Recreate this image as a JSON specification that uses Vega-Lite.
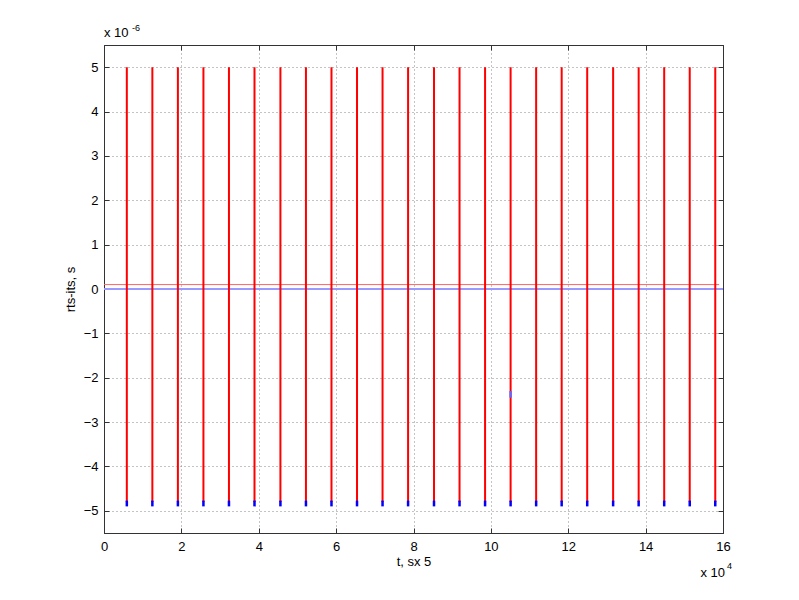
{
  "$schema": "https://vega.github.io/schema/vega-lite/v6.json",
  "width": 619,
  "height": 488,
  "autosize": {"type": "none"},
  "padding": {"left": 104, "top": 45, "right": 76, "bottom": 67},
  "background": "white",
  "config": {
    "font": "Liberation Sans",
    "view": {"stroke": "#333333", "strokeWidth": 1},
    "axis": {
      "labelFont": "Liberation Sans",
      "titleFont": "Liberation Sans",
      "labelFontSize": 13,
      "titleFontSize": 13,
      "titleFontWeight": "normal",
      "labelColor": "#000000",
      "titleColor": "#000000",
      "domainColor": "#333333",
      "tickColor": "#333333",
      "gridColor": "#888888",
      "gridDash": [1, 3],
      "gridOpacity": 1,
      "labelFlush": false,
      "labelOverlap": false
    }
  },
  "datasets": {
    "segments": [
      {"x": 0.59, "y": -4.8, "y2": 5, "part": "red"}, {"x": 0.59, "y": -4.9, "y2": -4.77, "part": "blue"},
      {"x": 1.25, "y": -4.8, "y2": 5, "part": "red"}, {"x": 1.25, "y": -4.9, "y2": -4.77, "part": "blue"},
      {"x": 1.91, "y": -4.8, "y2": 5, "part": "red"}, {"x": 1.91, "y": -4.9, "y2": -4.77, "part": "blue"},
      {"x": 2.57, "y": -4.8, "y2": 5, "part": "red"}, {"x": 2.57, "y": -4.9, "y2": -4.77, "part": "blue"},
      {"x": 3.23, "y": -4.8, "y2": 5, "part": "red"}, {"x": 3.23, "y": -4.9, "y2": -4.77, "part": "blue"},
      {"x": 3.89, "y": -4.8, "y2": 5, "part": "red"}, {"x": 3.89, "y": -4.9, "y2": -4.77, "part": "blue"},
      {"x": 4.56, "y": -4.8, "y2": 5, "part": "red"}, {"x": 4.56, "y": -4.9, "y2": -4.77, "part": "blue"},
      {"x": 5.22, "y": -4.8, "y2": 5, "part": "red"}, {"x": 5.22, "y": -4.9, "y2": -4.77, "part": "blue"},
      {"x": 5.88, "y": -4.8, "y2": 5, "part": "red"}, {"x": 5.88, "y": -4.9, "y2": -4.77, "part": "blue"},
      {"x": 6.54, "y": -4.8, "y2": 5, "part": "red"}, {"x": 6.54, "y": -4.9, "y2": -4.77, "part": "blue"},
      {"x": 7.20, "y": -4.8, "y2": 5, "part": "red"}, {"x": 7.20, "y": -4.9, "y2": -4.77, "part": "blue"},
      {"x": 7.86, "y": -4.8, "y2": 5, "part": "red"}, {"x": 7.86, "y": -4.9, "y2": -4.77, "part": "blue"},
      {"x": 8.53, "y": -4.8, "y2": 5, "part": "red"}, {"x": 8.53, "y": -4.9, "y2": -4.77, "part": "blue"},
      {"x": 9.19, "y": -4.8, "y2": 5, "part": "red"}, {"x": 9.19, "y": -4.9, "y2": -4.77, "part": "blue"},
      {"x": 9.85, "y": -4.8, "y2": 5, "part": "red"}, {"x": 9.85, "y": -4.9, "y2": -4.77, "part": "blue"},
      {"x": 10.51, "y": -4.8, "y2": 5, "part": "red"}, {"x": 10.51, "y": -4.9, "y2": -4.77, "part": "blue"},
      {"x": 10.51, "y": -2.45, "y2": -2.3, "part": "lightblue"},
      {"x": 11.17, "y": -4.8, "y2": 5, "part": "red"}, {"x": 11.17, "y": -4.9, "y2": -4.77, "part": "blue"},
      {"x": 11.83, "y": -4.8, "y2": 5, "part": "red"}, {"x": 11.83, "y": -4.9, "y2": -4.77, "part": "blue"},
      {"x": 12.49, "y": -4.8, "y2": 5, "part": "red"}, {"x": 12.49, "y": -4.9, "y2": -4.77, "part": "blue"},
      {"x": 13.16, "y": -4.8, "y2": 5, "part": "red"}, {"x": 13.16, "y": -4.9, "y2": -4.77, "part": "blue"},
      {"x": 13.82, "y": -4.8, "y2": 5, "part": "red"}, {"x": 13.82, "y": -4.9, "y2": -4.77, "part": "blue"},
      {"x": 14.48, "y": -4.8, "y2": 5, "part": "red"}, {"x": 14.48, "y": -4.9, "y2": -4.77, "part": "blue"},
      {"x": 15.14, "y": -4.8, "y2": 5, "part": "red"}, {"x": 15.14, "y": -4.9, "y2": -4.77, "part": "blue"},
      {"x": 15.80, "y": -4.8, "y2": 5, "part": "red"}, {"x": 15.80, "y": -4.9, "y2": -4.77, "part": "blue"}
    ],
    "hlines": [
      {"y": 0, "x": 0, "x2": 16, "series": "blue"},
      {"y": 0.1, "x": 0, "x2": 15.9, "series": "red"}
    ],
    "notes": [
      {"x": 0, "y": 5.5, "label": "x 10", "kind": "topbase"},
      {"x": 0, "y": 5.5, "label": "-6", "kind": "topexp"},
      {"x": 16, "y": -5.5, "label": "x 10", "kind": "botbase"},
      {"x": 16, "y": -5.5, "label": "4", "kind": "botexp"}
    ]
  },
  "resolve": {"axis": {"x": "independent", "y": "independent"}},
  "layer": [
    {
      "encoding": {
        "x": {"field": "x", "type": "quantitative",
              "scale": {"domain": [0, 16], "nice": false, "zero": false},
              "axis": {"tickCount": 8, "title": "t, sx 5", "grid": true, "tickSize": -5, "labelPadding": 12, "titlePadding": 2}},
        "y": {"field": "y", "type": "quantitative",
              "scale": {"domain": [-5.5, 5.5], "nice": false, "zero": false},
              "axis": {"tickCount": 11, "title": "rts-its, s", "grid": true, "tickSize": -5, "labelPadding": 11, "titlePadding": 6}}
      },
      "layer": [
        {
          "data": {"name": "hlines"},
          "transform": [{"filter": "datum.series == 'blue'"}],
          "mark": {"type": "rule", "strokeWidth": 2, "color": "#9999ff"},
          "encoding": {"x2": {"field": "x2"}}
        },
        {
          "data": {"name": "hlines"},
          "transform": [{"filter": "datum.series == 'red'"}],
          "mark": {"type": "rule", "strokeWidth": 1, "color": "#ff6666"},
          "encoding": {"x2": {"field": "x2"}}
        },
        {
          "data": {"name": "segments"},
          "transform": [{"filter": "datum.part == 'red'"}],
          "mark": {"type": "rule", "strokeWidth": 2, "color": "#ff0000"},
          "encoding": {"y2": {"field": "y2"}}
        },
        {
          "data": {"name": "segments"},
          "transform": [{"filter": "datum.part == 'blue'"}],
          "mark": {"type": "rule", "strokeWidth": 2.5, "color": "#0000ff"},
          "encoding": {"y2": {"field": "y2"}}
        },
        {
          "data": {"name": "segments"},
          "transform": [{"filter": "datum.part == 'lightblue'"}],
          "mark": {"type": "rule", "strokeWidth": 2.5, "color": "#6666ff"},
          "encoding": {"y2": {"field": "y2"}}
        },
        {
          "data": {"name": "notes"},
          "transform": [{"filter": "datum.kind == 'topbase'"}],
          "mark": {"type": "text", "align": "left", "baseline": "alphabetic", "dy": -8, "fontSize": 13},
          "encoding": {"text": {"field": "label"}}
        },
        {
          "data": {"name": "notes"},
          "transform": [{"filter": "datum.kind == 'topexp'"}],
          "mark": {"type": "text", "align": "left", "baseline": "alphabetic", "dx": 28, "dy": -14, "fontSize": 9},
          "encoding": {"text": {"field": "label"}}
        },
        {
          "data": {"name": "notes"},
          "transform": [{"filter": "datum.kind == 'botbase'"}],
          "mark": {"type": "text", "align": "right", "baseline": "alphabetic", "dx": 2, "dy": 44, "fontSize": 13},
          "encoding": {"text": {"field": "label"}}
        },
        {
          "data": {"name": "notes"},
          "transform": [{"filter": "datum.kind == 'botexp'"}],
          "mark": {"type": "text", "align": "left", "baseline": "alphabetic", "dx": 4, "dy": 36, "fontSize": 9},
          "encoding": {"text": {"field": "label"}}
        }
      ]
    },
    {
      "data": {"name": "hlines"},
      "transform": [{"filter": "datum.series == 'blue'"}],
      "mark": {"type": "rule", "opacity": 0},
      "encoding": {
        "x": {"field": "x", "type": "quantitative",
              "axis": {"orient": "top", "tickCount": 8, "labels": false, "title": null, "grid": false, "tickSize": -5}},
        "x2": {"field": "x2"},
        "y": {"field": "y", "type": "quantitative",
              "axis": {"orient": "right", "tickCount": 11, "labels": false, "title": null, "grid": false, "tickSize": -5}}
      }
    }
  ]
}
